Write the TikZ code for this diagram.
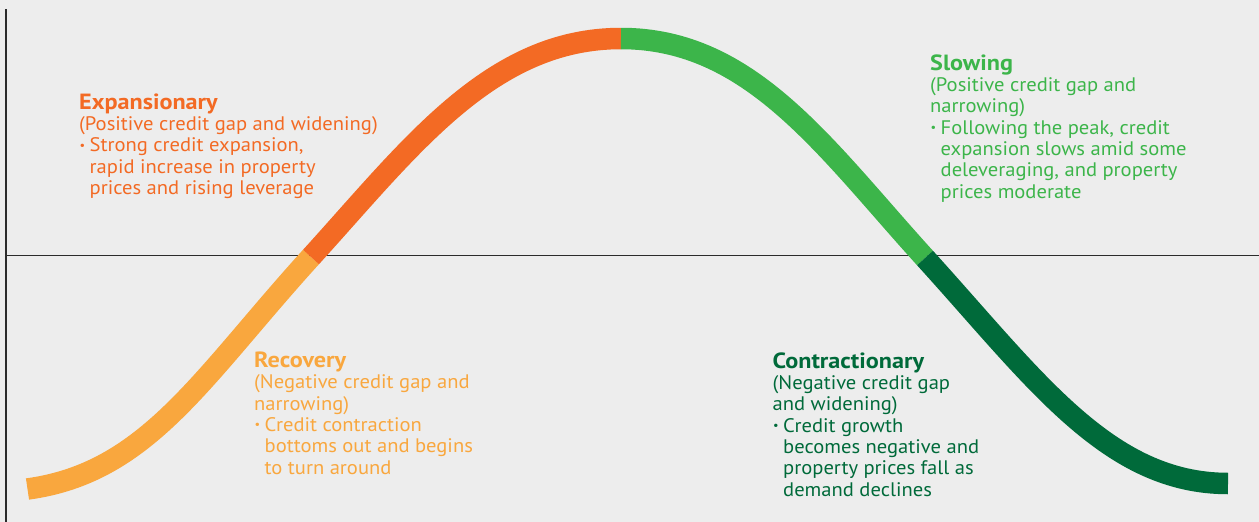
\documentclass[tikz,border=0pt]{standalone}
\usepackage{fontspec}
\setmainfont{PT Sans}[FakeStretch=1.05]
\newfontfamily\ttlfont{PT Sans}[FakeStretch=1.1]
\definecolor{bg}{HTML}{EDEDED}
\definecolor{lorange}{HTML}{F9A73E}
\definecolor{dorange}{HTML}{F36A24}
\definecolor{lgreen}{HTML}{3CB54A}
\definecolor{dgreen}{HTML}{006A3A}
\definecolor{axis}{HTML}{2B2B2B}
\newcommand{\blt}{\makebox[10.5pt][l]{\hspace*{0.5pt}\raisebox{2.6pt}{\scalebox{0.6}{\textbullet}}}}
\newcommand{\ind}{\hspace*{10.5pt}}
\newcommand{\ttl}[1]{{\ttlfont\bfseries\fontsize{22}{21.3}\selectfont #1}}
\tikzset{
  seg/.style={line width=21.5pt, line cap=butt},
  axisline/.style={draw=axis, line width=1.3pt},
  phase/.style={anchor=base west, inner sep=0pt, align=left,
    font=\fontsize{19.6}{21.3}\selectfont}
}
\begin{document}
\begin{tikzpicture}[x=1pt, y=-1pt]
\fill[bg] (0,0) rectangle (1259,522);
\useasboundingbox (0,0) rectangle (1259,522);
% axes
\coordinate (ytop) at (6,9);
\coordinate (ybot) at (6,522);
\coordinate (xl) at (6,255.5);
\coordinate (xr) at (1259,255.5);
\draw[axisline] (ytop) -- (ybot);
\draw[axisline] (xl) -- (xr);
% curve
\coordinate (p0) at (27.5,489);
\coordinate (p1) at (311,257);
\coordinate (p2) at (621,38.5);
\coordinate (p3) at (925,258);
\coordinate (p4) at (1228,483.5);
\draw[seg, lorange] (p0) .. controls (147.5,472.7) and (201,378) .. (p1);
\draw[seg, dorange] (p1) .. controls (411,147) and (491,38.5) .. (p2);
\draw[seg, lgreen] (p2) .. controls (751,38.5) and (825,148) .. (p3);
\draw[seg, dgreen] (p3) .. controls (1035,379) and (1108,483.5) .. (p4);
% texts (anchored at the baseline of the last line)
\node[phase, text=dorange] (exp) at (79,194.5) {\ttl{Expansionary}\\
(Positive credit gap and widening)\\
\blt Strong credit expansion,\\
\ind rapid increase in property\\
\ind prices and rising leverage};
\node[phase, text=lgreen] (slo) at (930,198) {\ttl{Slowing}\\
(Positive credit gap and\\
narrowing)\\
\blt Following the peak, credit\\
\ind expansion slows amid some\\
\ind deleveraging, and property\\
\ind prices moderate};
\node[phase, text=lorange] (rec) at (254,474) {\ttl{Recovery}\\
(Negative credit gap and\\
narrowing)\\
\blt Credit contraction\\
\ind bottoms out and begins\\
\ind to turn around};
\node[phase, text=dgreen] (con) at (772.5,496) {\ttl{Contractionary}\\
(Negative credit gap\\
and widening)\\
\blt Credit growth\\
\ind becomes negative and\\
\ind property prices fall as\\
\ind demand declines};
\end{tikzpicture}
\end{document}
